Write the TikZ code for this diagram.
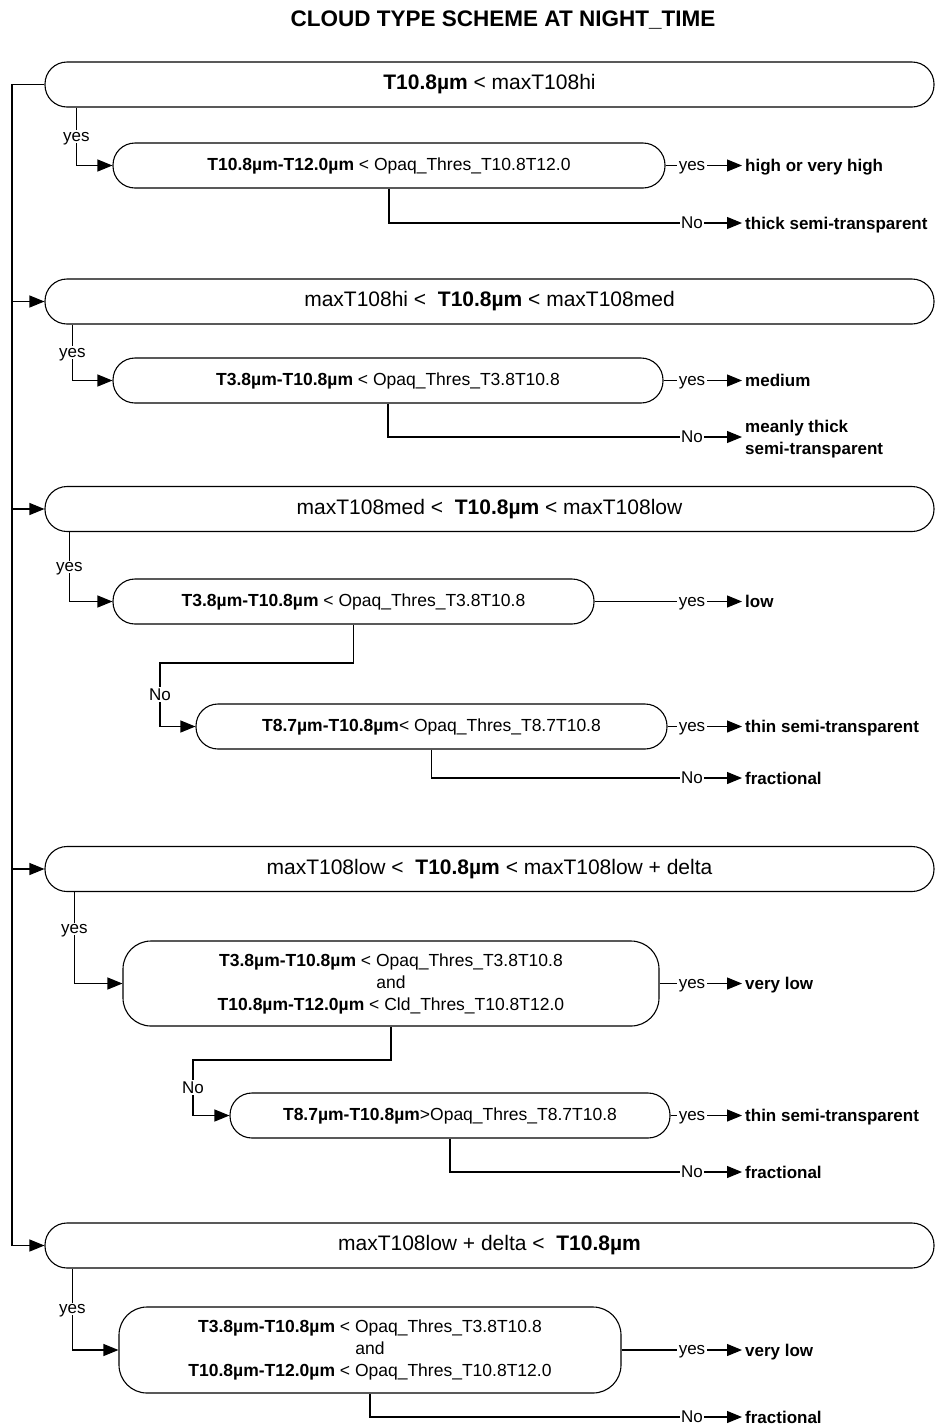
\documentclass[tikz,border=0pt]{standalone}
\usepackage{fontspec}
\setmainfont{Liberation Sans}
\usetikzlibrary{arrows.meta,positioning}
\tikzset{
    bigtest/.style={rectangle, draw, line width=1.1pt, rounded corners=22pt, minimum width=889pt, minimum height=45pt, inner sep=0pt, font=\fontsize{21}{25}\selectfont},
    test/.style={rectangle, draw, line width=1.1pt, rounded corners=22pt, minimum height=45pt, inner sep=0pt, align=center, font=\fontsize{17.5}{22}\selectfont},
    result/.style={anchor=west, inner sep=3pt, text depth=0pt, align=left, font=\fontsize{17}{22}\selectfont\bfseries},
    lbl/.style={fill=white, inner sep=1.5pt, text depth=0pt, font=\fontsize{17}{20}\selectfont},
    flow/.style={-{Triangle[length=15pt, width=12pt]}, line width=1.1pt},
    link/.style={line width=1.1pt},
}
\begin{document}
\begin{tikzpicture}[x=1pt, y=-1pt]
    \useasboundingbox (0,0) rectangle (936,1428);
    \node[font=\fontsize{22.5}{26}\selectfont\bfseries] (title) at (503,20) {CLOUD TYPE SCHEME AT NIGHT\_TIME};

    % brightness temperature classes
    \node[bigtest] (hi) at (489.5,84.5) {\textbf{T10.8µm} < maxT108hi};
    \node[bigtest] (med) at (489.5,301.5) {maxT108hi <\ \ \textbf{T10.8µm} < maxT108med};
    \node[bigtest] (low) at (489.5,509) {maxT108med <\ \ \textbf{T10.8µm} < maxT108low};
    \node[bigtest] (dlt) at (489.5,869) {maxT108low <\ \ \textbf{T10.8µm} < maxT108low + delta};
    \node[bigtest] (warm) at (489.5,1245.5) {maxT108low + delta <\ \ \textbf{T10.8µm}};

    % threshold tests
    \node[test, minimum width=552pt] (hi1) at (389,165.5) {\textbf{T10.8µm-T12.0µm} < Opaq\_Thres\_T10.8T12.0};
    \node[test, minimum width=550pt] (med1) at (388,380.5) {\textbf{T3.8µm-T10.8µm} < Opaq\_Thres\_T3.8T10.8};
    \node[test, minimum width=481pt] (low1) at (353.5,601.5) {\textbf{T3.8µm-T10.8µm} < Opaq\_Thres\_T3.8T10.8};
    \node[test, minimum width=471pt] (low2) at (431.5,726.5) {\textbf{T8.7µm-T10.8µm}< Opaq\_Thres\_T8.7T10.8};
    \node[test, minimum width=536pt, minimum height=85pt, rounded corners=28pt] (dlt1) at (391,983.5) {\textbf{T3.8µm-T10.8µm} < Opaq\_Thres\_T3.8T10.8\\and\\\textbf{T10.8µm-T12.0µm} < Cld\_Thres\_T10.8T12.0};
    \node[test, minimum width=440pt] (dlt2) at (450,1115.5) {\textbf{T8.7µm-T10.8µm}>Opaq\_Thres\_T8.7T10.8};
    \node[test, minimum width=502pt, minimum height=86pt, rounded corners=28pt] (warm1) at (370,1350) {\textbf{T3.8µm-T10.8µm} < Opaq\_Thres\_T3.8T10.8\\and\\\textbf{T10.8µm-T12.0µm} < Opaq\_Thres\_T10.8T12.0};

    % cloud types
    \node[result] (hiy) at (742,165.5) {high or very high};
    \node[result] (hin) at (742,223) {thick semi-transparent};
    \node[result] (medy) at (742,380.5) {medium};
    \node[result] (medn) at (742,437) {meanly thick\\semi-transparent};
    \node[result] (lowy) at (742,601.5) {low};
    \node[result] (low2y) at (742,726.5) {thin semi-transparent};
    \node[result] (low2n) at (742,778) {fractional};
    \node[result] (dlty) at (742,983.5) {very low};
    \node[result] (dlt2y) at (742,1115.5) {thin semi-transparent};
    \node[result] (dlt2n) at (742,1172) {fractional};
    \node[result] (warmy) at (742,1350) {very low};
    \node[result] (warmn) at (742,1417) {fractional};

    \coordinate (spine) at (12,0);
    \coordinate (lowbend) at (160,663);
    \coordinate (dltbend) at (193,1060);

    \draw[link] (hi.west) -- (hi.west -| spine) -- (warm.west -| spine);
    \foreach \b in {med,low,dlt,warm}
        \draw[flow] (\b.west -| spine) -- (\b.west);
    \foreach \b/\s/\d/\p in {hi/hi1/32/0.25, med/med1/28/0.25, low/low1/25/0.25, dlt/dlt1/30/0.2, warm/warm1/28/0.25}
        \draw[flow] ([xshift=\d pt]\b.south west) |- node[lbl, pos=\p]{yes} (\s.west);
    \foreach \s/\o in {hi1/hiy, med1/medy, low1/lowy, low2/low2y, dlt1/dlty, dlt2/dlt2y, warm1/warmy}
        \draw[flow] (\s.east) -- node[lbl, pos=1, xshift=-50pt]{yes} (\o.west);
    \foreach \s/\o in {hi1/hin, med1/medn, low2/low2n, dlt2/dlt2n, warm1/warmn}
        \draw[flow] (\s.south) |- node[lbl, pos=1, xshift=-50pt]{No} (\o.west);
    \draw[flow] (low1.south) |- (lowbend) |- node[lbl, pos=0.25]{No} (low2.west);
    \draw[flow] (dlt1.south) |- (dltbend) |- node[lbl, pos=0.25]{No} (dlt2.west);
\end{tikzpicture}
\end{document}
